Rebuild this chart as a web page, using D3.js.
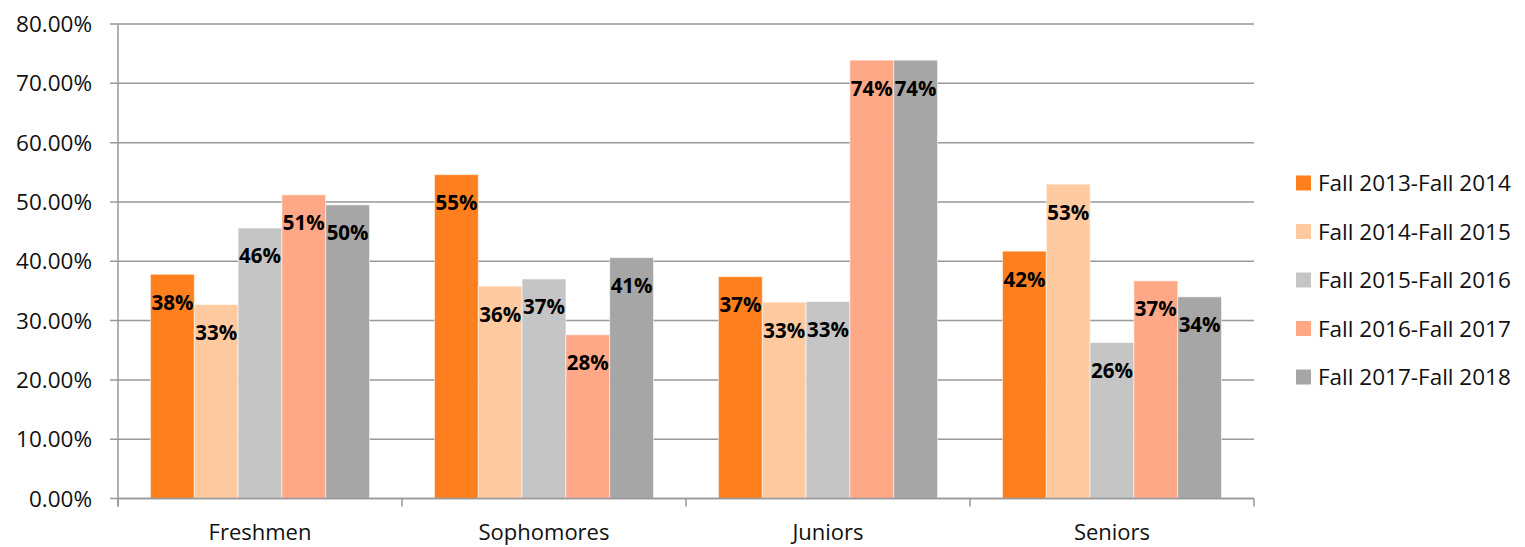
<!DOCTYPE html>
<html><head><meta charset="utf-8">
<script src="https://cdn.jsdelivr.net/npm/d3@7"></script>
<style>body{margin:0;background:#fff}svg{display:block;font-family:"Open Sans",Lato,sans-serif}</style>
</head><body><svg id="c" width="1525" height="547"></svg>
<script>
const categories = ["Freshmen","Sophomores","Juniors","Seniors"];
const seriesNames = ["Fall 2013-Fall 2014","Fall 2014-Fall 2015","Fall 2015-Fall 2016","Fall 2016-Fall 2017","Fall 2017-Fall 2018"];
const fall2013 = [37.8, 54.6, 37.4, 41.7];
const fall2014 = [32.7, 35.8, 33.1, 53.0];
const fall2015 = [45.6, 37.0, 33.2, 26.3];
const fall2016 = [51.2, 27.6, 73.9, 36.7];
const fall2017 = [49.5, 40.6, 73.9, 34.0];
const seriesValues = [fall2013, fall2014, fall2015, fall2016, fall2017];
const colors = ["#FE7F1E","#FFCAA0","#C5C5C5","#FFA888","#A6A6A6"];
const yTicks = [0,10,20,30,40,50,60,70,80];

(function(){
const svg = d3.select("#c");
const mLeft = 118, mRight = 1254, mTop = 24, mBottom = 498.5;
const x0 = d3.scaleBand().domain(categories).range([mLeft,mRight]).paddingInner(0).paddingOuter(0);
const groupPad = 32.5;
const x1 = d3.scaleBand().domain(d3.range(seriesNames.length)).range([groupPad, x0.bandwidth()-groupPad]);
const y = d3.scaleLinear().domain([0,80]).range([mBottom, mTop]);
const fs = 22.5;

svg.append("g").selectAll("line").data(yTicks).join("line")
  .attr("x1", mLeft-8).attr("x2", mRight).attr("y1", d=>y(d)).attr("y2", d=>y(d))
  .attr("stroke","#999").attr("stroke-width",1.5);

svg.append("g").selectAll("text").data(yTicks).join("text")
  .attr("x", 92).attr("y", d=>y(d)).attr("dy","0.36em").attr("text-anchor","end")
  .attr("font-size",fs).attr("fill","#111").text(d=>d.toFixed(2)+"%");

const groups = svg.append("g").selectAll("g").data(categories).join("g")
  .attr("transform", c=>`translate(${x0(c)},0)`);
groups.each(function(c, ci){
  const g = d3.select(this);
  const data = seriesValues.map((vals, si)=>({si, v: vals[ci]}));
  g.selectAll("rect").data(data).join("rect")
    .attr("x", d=>x1(d.si)).attr("width", x1.bandwidth())
    .attr("y", d=>y(d.v)).attr("height", d=>y(0)-y(d.v))
    .attr("fill", d=>colors[d.si]).attr("stroke","#fff").attr("stroke-opacity",0.5).attr("stroke-width",1);
  g.selectAll("text").data(data).join("text")
    .attr("x", d=>x1(d.si)+x1.bandwidth()/2).attr("y", d=>y(d.v)+28).attr("dy","0.36em")
    .attr("text-anchor","middle").attr("font-size",20.5).attr("font-weight","bold").attr("fill","#000")
    .text(d=>Math.round(d.v)+"%");
});

svg.append("line").attr("x1",mLeft).attr("x2",mLeft).attr("y1",mTop).attr("y2",mBottom+8).attr("stroke","#999").attr("stroke-width",1.5);
svg.append("line").attr("x1",mLeft).attr("x2",mRight).attr("y1",mBottom).attr("y2",mBottom).attr("stroke","#999").attr("stroke-width",1.5);
const xTickPos = categories.map(c=>x0(c)).concat([mRight]);
svg.append("g").selectAll("line").data(xTickPos).join("line")
  .attr("x1",d=>d).attr("x2",d=>d).attr("y1",mBottom).attr("y2",mBottom+8).attr("stroke","#999").attr("stroke-width",1.5);
svg.append("g").selectAll("text").data(categories).join("text")
  .attr("x", c=>x0(c)+x0.bandwidth()/2).attr("y", 539.5).attr("text-anchor","middle")
  .attr("font-size",22).attr("fill","#111").text(c=>c);

const lg = svg.append("g").selectAll("g").data(seriesNames).join("g")
  .attr("transform",(d,i)=>`translate(1296,${183+i*48.5})`);
lg.append("rect").attr("x",0).attr("y",-7.5).attr("width",15).attr("height",15).attr("fill",(d,i)=>colors[i]);
lg.append("text").attr("x",22).attr("y",0).attr("dy","0.36em").attr("font-size",fs).attr("fill","#111").text(d=>d);
})();
</script></body></html>
